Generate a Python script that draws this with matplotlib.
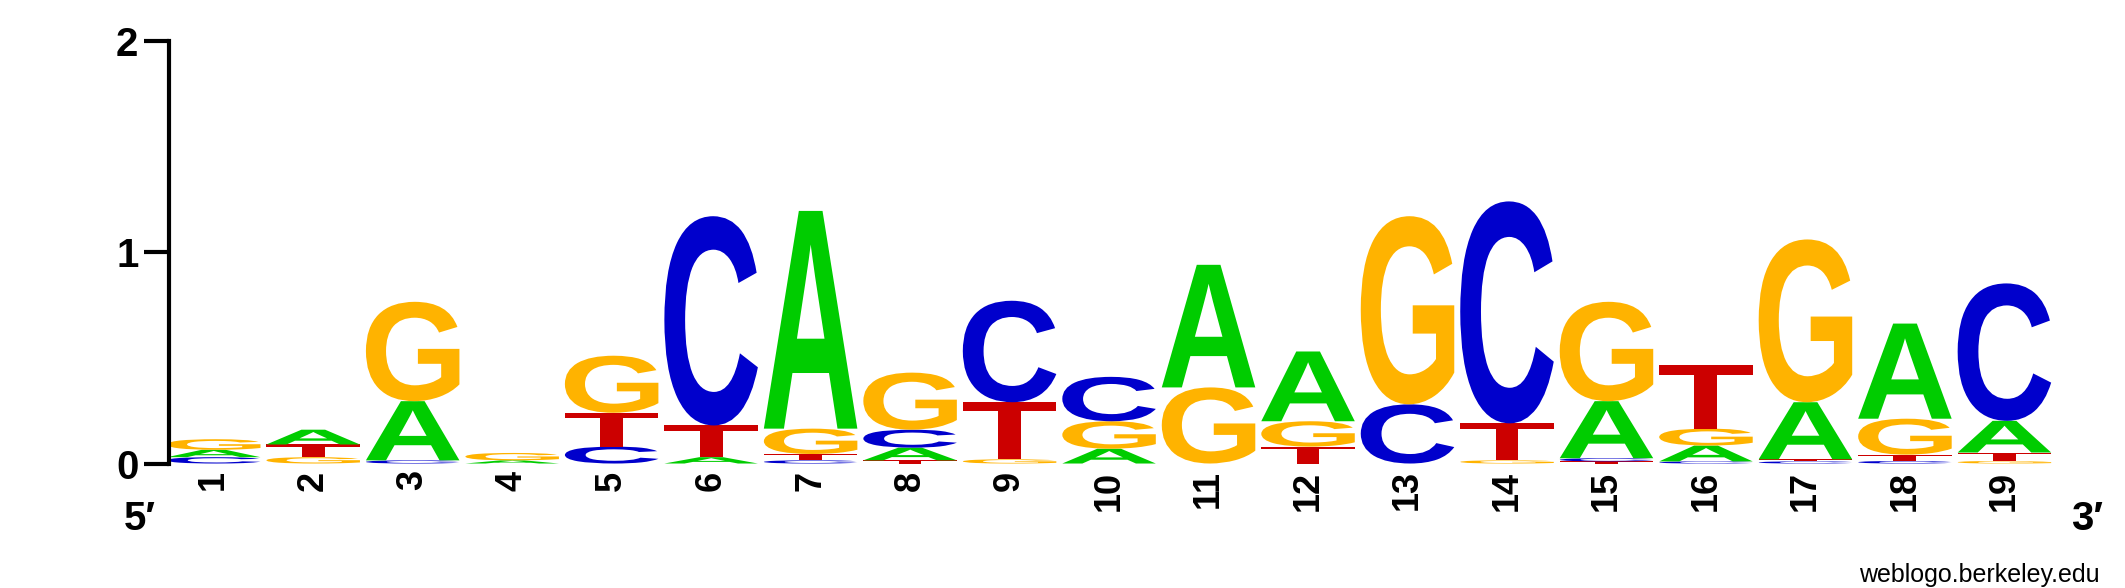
import matplotlib
matplotlib.use('Agg')
import matplotlib.pyplot as plt
from matplotlib.textpath import TextPath
from matplotlib.font_manager import FontProperties
from matplotlib.patches import PathPatch
from matplotlib.transforms import Affine2D

# information content (bits) per base at each position
positions = list(range(1, 20))
A = [0.035, 0.07, 0.28, 0.015, 0.0, 0.03, 1.03, 0.06, 0.0, 0.07, 0.58, 0.33, 0.0, 0.0, 0.27, 0.075, 0.27, 0.45, 0.15]
C = [0.03, 0.0, 0.015, 0.0, 0.08, 0.99, 0.015, 0.085, 0.48, 0.21, 0.0, 0.0, 0.28, 1.05, 0.015, 0.01, 0.01, 0.012, 0.65]
G = [0.05, 0.03, 0.47, 0.035, 0.27, 0.0, 0.12, 0.27, 0.02, 0.13, 0.36, 0.12, 0.89, 0.015, 0.47, 0.08, 0.77, 0.17, 0.012]
T = [0.0, 0.06, 0.0, 0.0, 0.16, 0.15, 0.03, 0.015, 0.27, 0.0, 0.0, 0.08, 0.0, 0.175, 0.01, 0.30, 0.01, 0.03, 0.04]

colors = {'A': '#00cc00', 'C': '#0000cc', 'G': '#ffb300', 'T': '#cc0000'}
fp = FontProperties(family='Liberation Sans', weight='bold')


def draw_letter(ax, ch, x, y, w, h):
    tp = TextPath((0, 0), ch, size=1, prop=fp)
    bb = tp.get_extents()
    t = (Affine2D().translate(-bb.x0, -bb.y0)
         .scale(w / bb.width, h / bb.height)
         .translate(x - w / 2, y))
    ax.add_patch(PathPatch(t.transform_path(tp), fc=colors[ch], ec='none', lw=0))


fig = plt.figure(figsize=(21.25, 5.88), dpi=100)
ax = fig.add_axes([0.0795, 0.2117, 0.8895, 0.719])

for i, p in enumerate(positions):
    stack = [('A', A[i]), ('C', C[i]), ('G', G[i]), ('T', T[i])]
    stack.sort(key=lambda s: s[1])
    y0 = 0.0
    for ch, h in stack:
        if h > 0:
            draw_letter(ax, ch, p, y0, 0.94, h)
            y0 += h

ax.set_xlim(0.55, 19.55)
ax.set_ylim(0, 2)
for s in ['top', 'right', 'bottom']:
    ax.spines[s].set_visible(False)
ax.spines['left'].set_linewidth(3)

ax.set_yticks([0, 1, 2])
ax.set_yticklabels(['0', '1', '2'], fontsize=29, fontweight='bold', family='Liberation Sans')
ax.tick_params(axis='y', length=18, width=3, pad=4)

ax.set_xticks(positions)
ax.set_xticklabels([str(p) for p in positions], rotation=90, fontsize=26,
                   fontweight='bold', family='Liberation Sans')
ax.tick_params(axis='x', length=0, pad=5)

fig.text(140 / 2125, 1 - 519 / 588, '5\u2032', fontsize=29, fontweight='bold',
         family='Liberation Sans', ha='center', va='center')
fig.text(2087 / 2125, 1 - 519 / 588, '3\u2032', fontsize=29, fontweight='bold',
         family='Liberation Sans', ha='center', va='center')
fig.text(0.988, 0.022, 'weblogo.berkeley.edu', fontsize=18,
         family='Liberation Sans', ha='right', va='center')

fig.savefig('out.png', dpi=100)
